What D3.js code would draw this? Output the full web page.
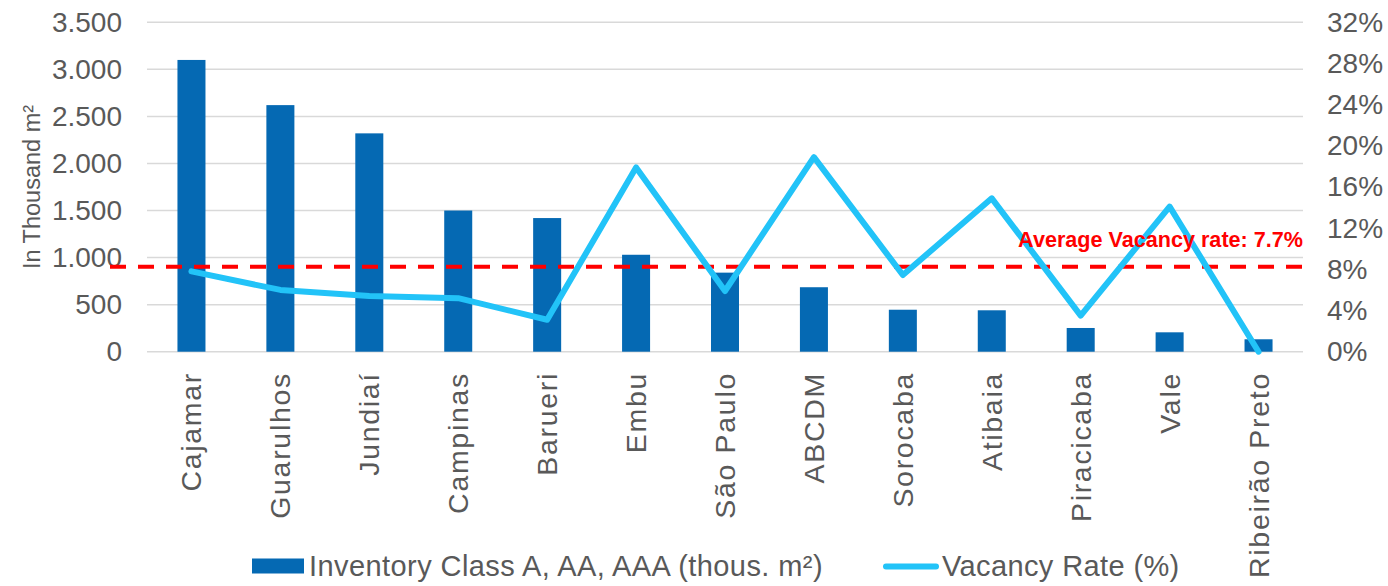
<!DOCTYPE html>
<html>
<head>
<meta charset="utf-8">
<script src="https://cdn.jsdelivr.net/npm/d3@7"></script>
<style>
  html, body { margin: 0; padding: 0; background: #fff; }
  svg { display: block; font-family: "Liberation Sans", Arial, sans-serif; }
</style>
</head>
<body>
<svg id="chart" width="1388" height="586"></svg>
<script>
const categories = ["Cajamar","Guarulhos","Jundiaí","Campinas","Barueri","Embu","São Paulo","ABCDM","Sorocaba","Atibaia","Piracicaba","Vale","Ribeirão Preto"];
const inventory = [3100, 2620, 2320, 1500, 1420, 1030, 840, 685, 446, 440, 252, 206, 132];
const vacancy = [7.8, 6.0, 5.4, 5.2, 3.1, 17.9, 5.9, 18.9, 7.45, 14.9, 3.5, 14.1, 0];
const leftTicks = [0, 500, 1000, 1500, 2000, 2500, 3000, 3500];
const rightTicks = [0, 4, 8, 12, 16, 20, 24, 28, 32];
const averageLabel = "Average Vacancy rate: 7.7%";
const averageLinePos = 8.26; // as drawn on the right axis
const seriesNames = ["Inventory Class A, AA, AAA (thous. m²)", "Vacancy Rate (%)"];

(function () {
const svg = d3.select("#chart");
const pLeft = 147, pRight = 1303, pTop = 22.3, pBottom = 351.7;
const textColor = "#595959";
const barColor = "#0569b3";
const lineColor = "#22c3f8";

const x = d3.scaleBand().domain(categories).range([pLeft, pRight]).paddingInner(0).paddingOuter(0);
const yL = d3.scaleLinear().domain([0, 3500]).range([pBottom, pTop]);
const yR = d3.scaleLinear().domain([0, 32]).range([pBottom, pTop]);

// gridlines
svg.append("g").selectAll("line").data(leftTicks).join("line")
  .attr("x1", pLeft).attr("x2", pRight)
  .attr("y1", d => yL(d)).attr("y2", d => yL(d))
  .attr("stroke", "#d9d9d9").attr("stroke-width", 1.5);

// left axis
const fmtL = d => d3.format(",")(d).replace(/,/g, ".");
const axL = svg.append("g").attr("transform", `translate(${pLeft},0)`)
  .call(d3.axisLeft(yL).tickValues(leftTicks).tickFormat(fmtL).tickSize(0).tickPadding(25));
axL.select(".domain").remove();
axL.selectAll("text").attr("font-size", 28).attr("fill", textColor)
  .attr("font-family", "Liberation Sans, Arial, sans-serif");

// right axis
const axR = svg.append("g").attr("transform", `translate(${pRight},0)`)
  .call(d3.axisRight(yR).tickValues(rightTicks).tickFormat(d => d + "%").tickSize(0).tickPadding(24));
axR.select(".domain").remove();
axR.selectAll("text").attr("font-size", 28).attr("fill", textColor)
  .attr("font-family", "Liberation Sans, Arial, sans-serif");

// y title
svg.append("text")
  .attr("transform", `translate(40,187) rotate(-90)`)
  .attr("text-anchor", "middle")
  .attr("font-size", 23.5).attr("fill", textColor)
  .text("In Thousand m²");

// bars
const barW = x.step() * 0.315;
svg.append("g").selectAll("rect").data(categories).join("rect")
  .attr("x", (d) => x(d) + x.bandwidth() / 2 - barW / 2)
  .attr("width", barW)
  .attr("y", (d, i) => yL(inventory[i]))
  .attr("height", (d, i) => yL(0) - yL(inventory[i]))
  .attr("fill", barColor);

// category labels
svg.append("g").selectAll("text").data(categories).join("text")
  .attr("transform", d => `translate(${x(d) + x.bandwidth() / 2},372) rotate(-90)`)
  .attr("text-anchor", "end")
  .attr("dy", "0.35em")
  .attr("font-size", 28.5)
  .attr("letter-spacing", "1.7px")
  .attr("fill", textColor)
  .text(d => d);

// average line
svg.append("line")
  .attr("x1", 110).attr("x2", pRight)
  .attr("y1", yR(averageLinePos)).attr("y2", yR(averageLinePos))
  .attr("stroke", "#ff0000").attr("stroke-width", 4)
  .attr("stroke-dasharray", "16,12");

// vacancy line
const line = d3.line()
  .x((d, i) => x(categories[i]) + x.bandwidth() / 2)
  .y(d => yR(d));
svg.append("path")
  .datum(vacancy)
  .attr("d", line)
  .attr("fill", "none")
  .attr("stroke", lineColor)
  .attr("stroke-width", 6)
  .attr("stroke-linejoin", "round")
  .attr("stroke-linecap", "round");

// average label
svg.append("text")
  .attr("x", pRight).attr("y", 246.5)
  .attr("text-anchor", "end")
  .attr("font-size", 21.6).attr("font-weight", "bold")
  .attr("fill", "#ff0000")
  .text(averageLabel);

// legend
const lg = svg.append("g");
lg.append("rect").attr("x", 252).attr("y", 558.5).attr("width", 52).attr("height", 15).attr("fill", barColor);
lg.append("text").attr("x", 309).attr("y", 575.5).attr("font-size", 29).attr("letter-spacing", "0.42px").attr("fill", textColor).text(seriesNames[0]);
lg.append("line").attr("x1", 886).attr("x2", 936).attr("y1", 566.5).attr("y2", 566.5)
  .attr("stroke", lineColor).attr("stroke-width", 6).attr("stroke-linecap", "round");
lg.append("text").attr("x", 942).attr("y", 575.5).attr("font-size", 29).attr("letter-spacing", "0.38px").attr("fill", textColor).text(seriesNames[1]);
})();
</script>
</body>
</html>
